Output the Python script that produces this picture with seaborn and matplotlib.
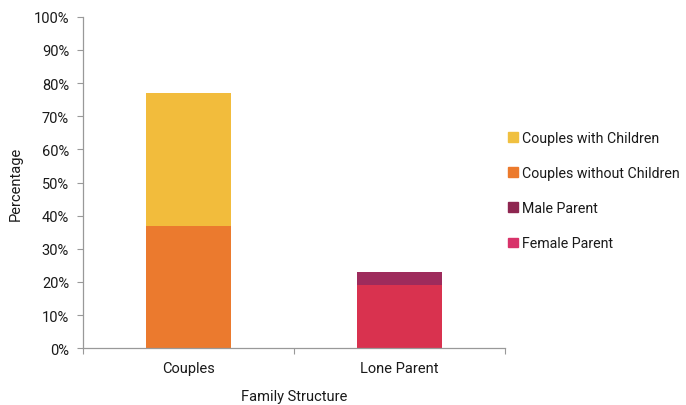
import matplotlib
matplotlib.use("Agg")
import matplotlib.pyplot as plt
import matplotlib.patches as mpatches
import pandas as pd
import seaborn as sns

# data (percent of families)
categories = ["Couples", "Lone Parent"]
series = ["Couples with Children", "Couples without Children", "Male Parent", "Female Parent"]
series_category = ["Couples", "Couples", "Lone Parent", "Lone Parent"]
series_values = [40, 37, 4, 19]
colors = ["#F2BC3C", "#EB7A2E", "#9E2B5C", "#D9324F"]
legend_colors = ["#F0C040", "#EC7A2C", "#8E2650", "#D8336A"]
y_ticks = [0, 10, 20, 30, 40, 50, 60, 70, 80, 90, 100]

sns.set_style("white")
plt.rcParams["font.family"] = ["Roboto", "DejaVu Sans"]

df = pd.DataFrame({"structure": series_category, "series": series, "value": series_values})
# stack top: bottom segment listed last for each category
df["top"] = df.groupby("structure")["value"].transform(lambda s: s[::-1].cumsum()[::-1])

fig = plt.figure(figsize=(6.86, 4.06), dpi=100)
ax = fig.add_axes([0.121, 0.140, 0.615, 0.816])

# draw from the top of the stack downward so lower segments cover upper ones
for name, col in zip(series, colors):
    sub = df[df["series"] == name]
    sns.barplot(data=sub, x="structure", y="top", order=categories, color=col,
                width=0.4, saturation=1, ax=ax, errorbar=None, linewidth=0)

fs = 10.5
txt = "#1a1a1a"
ax.set_xlim(-0.5, 1.5)
ax.set_ylim(0, 100)
ax.set_yticks(y_ticks)
ax.set_yticklabels([f"{t}%" for t in y_ticks], fontsize=fs, color=txt)
ax.tick_params(axis="y", length=4, width=0.8, color="#999999", pad=6, left=True)
ax.set_xticks([0, 1])
ax.set_xticklabels(categories, fontsize=fs, color=txt)
ax.set_xticks([-0.5, 0.5, 1.5], minor=True)
ax.tick_params(axis="x", which="major", length=0, pad=9)
ax.tick_params(axis="x", which="minor", length=4, width=0.8, color="#999999", bottom=True)

ax.set_xlabel("Family Structure", fontsize=fs, color=txt, labelpad=10)
ax.set_ylabel("Percentage", fontsize=fs, color=txt, labelpad=8)

for side in ["top", "right"]:
    ax.spines[side].set_visible(False)
for side in ["left", "bottom"]:
    ax.spines[side].set_color("#999999")
    ax.spines[side].set_linewidth(0.9)

handles = [mpatches.Patch(color=c, label=s) for s, c in zip(series, legend_colors)]
fig.legend(handles=handles, loc="upper left", bbox_to_anchor=(0.722, 0.707),
           frameon=False, fontsize=10.2, handlelength=0.7, handleheight=0.7,
           handletextpad=0.3, labelspacing=1.5, labelcolor=txt)

fig.savefig("out.png", dpi=100, facecolor="white")
